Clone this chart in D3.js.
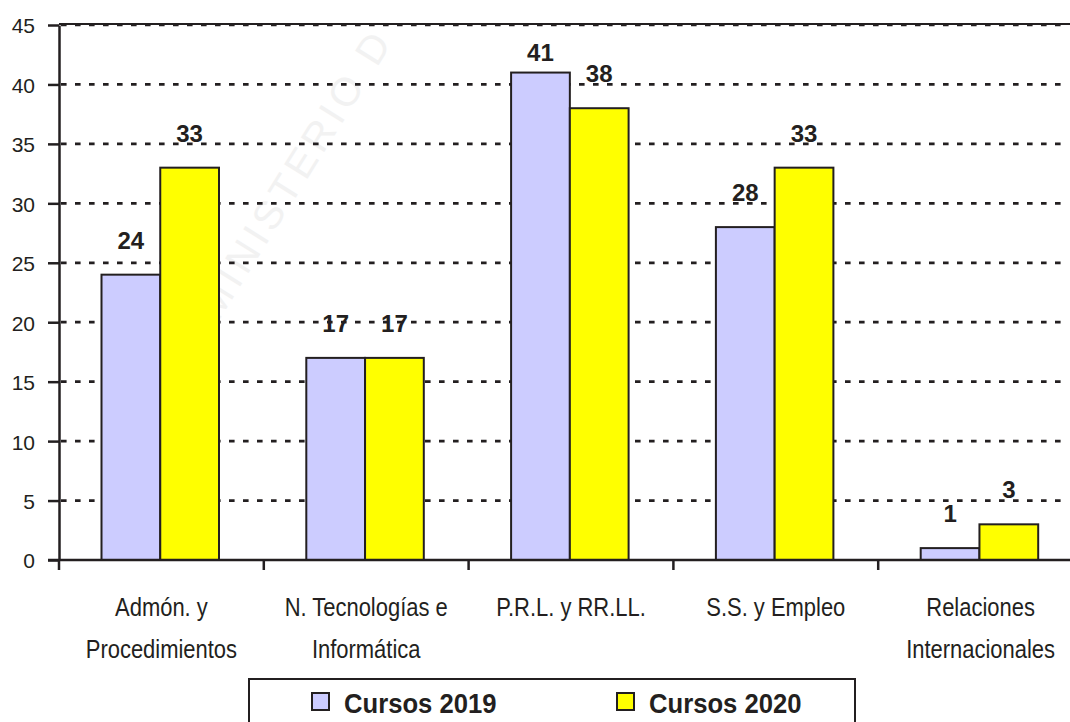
<!DOCTYPE html>
<html>
<head>
<meta charset="utf-8">
<script src="https://cdn.jsdelivr.net/npm/d3@7"></script>
<style>
  html, body { margin: 0; padding: 0; background: #ffffff; overflow: hidden; }
  svg { display: block; font-family: "Liberation Sans", Arial, Helvetica, sans-serif; }
</style>
</head>
<body>
<svg id="chart" width="1070" height="722"></svg>
<script>
// Course counts by training area, 2019 vs 2020
const categories = [
  "Admón. y Procedimientos",
  "N. Tecnologías e Informática",
  "P.R.L. y RR.LL.",
  "S.S. y Empleo",
  "Relaciones Internacionales"
];
const categoryLines = [
  ["Admón. y", "Procedimientos"],
  ["N. Tecnologías e", "Informática"],
  ["P.R.L. y RR.LL."],
  ["S.S. y Empleo"],
  ["Relaciones", "Internacionales"]
];
const seriesNames = ["Cursos 2019", "Cursos 2020"];
const cursos2019 = [24, 17, 41, 28, 1];
const cursos2020 = [33, 17, 38, 33, 3];
const yTicks = [0, 5, 10, 15, 20, 25, 30, 35, 40, 45];

const seriesColors = ["#ccccff", "#ffff00"];
const ink = "#231f20";

const svg = d3.select("#chart");

const x = d3.scaleBand().domain(categories).range([59, 1083]);
const xs = d3.scaleBand().domain(seriesNames).range([42.5, 160]);
const y = d3.scaleLinear().domain([0, 45]).range([560, 25]);

const rows = categories.map((c, i) => ({
  category: c,
  values: [
    { series: seriesNames[0], value: cursos2019[i] },
    { series: seriesNames[1], value: cursos2020[i] }
  ]
}));

// faint background stamp
svg.append("text")
  .attr("transform", "translate(218,322) rotate(-58)")
  .attr("font-size", 40)
  .attr("fill", "#f2f2f2")
  .attr("letter-spacing", 5)
  .text("MINISTERIO D");

// dotted horizontal gridlines
svg.append("g")
  .selectAll("line")
  .data(yTicks.filter(t => t > 0))
  .join("line")
  .attr("x1", 61).attr("x2", 1062)
  .attr("y1", d => y(d)).attr("y2", d => y(d))
  .attr("stroke", ink)
  .attr("stroke-width", 2.7)
  .attr("stroke-dasharray", "5.6 8.4");

// top edge of the plot frame
svg.append("line")
  .attr("x1", 59).attr("x2", x.range()[1])
  .attr("y1", y(45) - 1).attr("y2", y(45) - 1)
  .attr("stroke", ink).attr("stroke-width", 2);

// bars
const groups = svg.append("g")
  .selectAll("g")
  .data(rows)
  .join("g")
  .attr("transform", d => `translate(${x(d.category)},0)`);

groups.selectAll("rect")
  .data(d => d.values)
  .join("rect")
  .attr("x", d => xs(d.series))
  .attr("width", xs.bandwidth())
  .attr("y", d => y(d.value))
  .attr("height", d => y(0) - y(d.value))
  .attr("fill", (d, i) => seriesColors[i])
  .attr("stroke", ink)
  .attr("stroke-width", 2);

// value labels above each bar
groups.selectAll("text")
  .data(d => d.values)
  .join("text")
  .attr("x", d => xs(d.series) + xs.bandwidth() / 2)
  .attr("y", d => Math.max(y(d.value) - 26, 61))
  .attr("text-anchor", "middle")
  .attr("font-size", 24)
  .attr("font-weight", "bold")
  .attr("fill", ink)
  .text(d => d.value);

// y axis
const yAxis = svg.append("g")
  .attr("transform", "translate(59,0)")
  .call(d3.axisLeft(y).tickValues(yTicks).tickSize(11).tickPadding(13).tickSizeOuter(0));
yAxis.select(".domain").attr("stroke", ink).attr("stroke-width", 2.5);
yAxis.selectAll(".tick line").attr("stroke", ink).attr("stroke-width", 2.5);
yAxis.selectAll(".tick text")
  .attr("font-size", 21)
  .attr("font-family", "'Liberation Sans', Arial, sans-serif")
  .attr("fill", ink)
  .attr("dy", "0.38em");

// x axis with ticks at category boundaries
const bounds = categories.map(c => x(c)).concat([x.range()[1]]);
svg.append("line")
  .attr("x1", 48).attr("x2", x.range()[1])
  .attr("y1", y(0)).attr("y2", y(0))
  .attr("stroke", ink).attr("stroke-width", 2.5);
svg.append("g")
  .selectAll("line")
  .data(bounds)
  .join("line")
  .attr("x1", d => d).attr("x2", d => d)
  .attr("y1", y(0)).attr("y2", y(0) + 10)
  .attr("stroke", ink).attr("stroke-width", 2.5);

// category labels (condensed)
const catLabels = svg.append("g")
  .selectAll("g")
  .data(categories)
  .join("g")
  .attr("transform", d => `translate(${x(d) + x.bandwidth() / 2},0)`);
catLabels.selectAll("text")
  .data((d, i) => categoryLines[i])
  .join("text")
  .attr("transform", (d, j) => `translate(0,${616 + j * 42}) scale(0.845,1)`)
  .attr("text-anchor", "middle")
  .attr("font-size", 26)
  .attr("fill", ink)
  .text(d => d);

// legend
const legend = svg.append("g");
legend.append("rect")
  .attr("x", 249).attr("y", 679)
  .attr("width", 606).attr("height", 60)
  .attr("fill", "none")
  .attr("stroke", ink).attr("stroke-width", 2);
const legendX = [312, 617];
seriesNames.forEach((name, i) => {
  legend.append("rect")
    .attr("x", legendX[i]).attr("y", 693)
    .attr("width", 17).attr("height", 17)
    .attr("fill", seriesColors[i])
    .attr("stroke", ink).attr("stroke-width", 2);
  legend.append("text")
    .attr("transform", `translate(${legendX[i] + 32},713) scale(0.95,1)`)
    .attr("font-size", 27)
    .attr("font-weight", "bold")
    .attr("fill", ink)
    .text(name);
});
</script>
</body>
</html>
